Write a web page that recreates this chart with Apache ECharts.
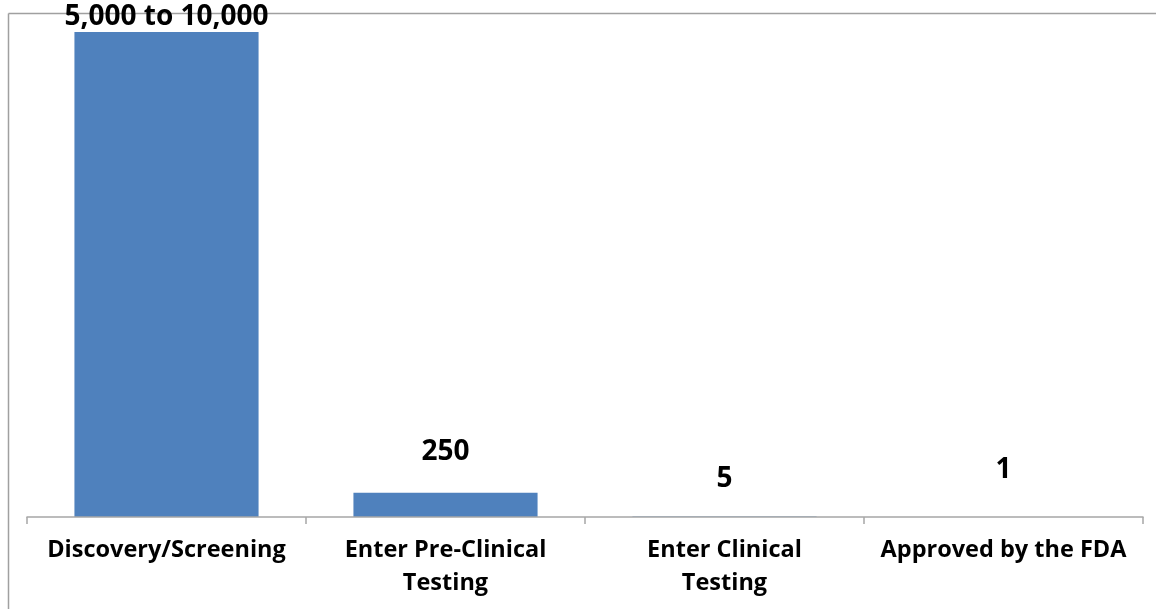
<!DOCTYPE html>
<html>
<head>
<meta charset="utf-8">
<script src="https://cdn.jsdelivr.net/npm/echarts@6/dist/echarts.min.js"></script>
<style>
html, body { margin: 0; padding: 0; background: #fff; }
#chart { width: 1156px; height: 609px; }
</style>
</head>
<body>
<div id="chart"></div>
<script>
// Data
var categories = ['Discovery/Screening', 'Enter Pre-Clinical\nTesting', 'Enter Clinical\nTesting', 'Approved by the FDA'];
var values = [5000, 250, 5, 1];
var valueLabels = ['5,000 to 10,000', '250', '5', '1'];

var labelDistance = [1, 27, 23, 33];
var FONT = 'Open Sans';

var chart = echarts.init(document.getElementById('chart'));
var option = {
  animation: false,
  backgroundColor: '#ffffff',
  grid: { left: 27, right: 13, top: 32, bottom: 92, containLabel: false },
  graphic: [
    { type: 'line', shape: { x1: 8.5, y1: 13.5, x2: 1160, y2: 13.5 }, style: { stroke: '#a0a0a0', lineWidth: 1.5 } },
    { type: 'line', shape: { x1: 8.5, y1: 13.5, x2: 8.5, y2: 620 }, style: { stroke: '#a0a0a0', lineWidth: 1.5 } }
  ],
  xAxis: {
    type: 'category',
    data: categories,
    boundaryGap: true,
    z: 3,
    axisLine: { show: true, lineStyle: { color: '#a6a6a6', width: 1.5 } },
    axisTick: { show: true, alignWithLabel: false, length: 7, lineStyle: { color: '#a6a6a6', width: 1.5 } },
    axisLabel: {
      interval: 0,
      margin: 17,
      color: '#000',
      fontFamily: FONT,
      fontWeight: 'bold',
      fontSize: 23.5,
      lineHeight: 33
    }
  },
  yAxis: {
    type: 'value',
    min: 0,
    max: 5000,
    show: false,
    splitLine: { show: false }
  },
  series: [{
    type: 'bar',
    barWidth: '66%',
    itemStyle: { color: '#4f81bd' },
    data: values.map(function (v, i) {
      return {
        value: v,
        label: {
          show: true,
          position: 'top',
          distance: labelDistance[i],
          formatter: valueLabels[i],
          color: '#000',
          fontFamily: FONT,
          fontWeight: 'bold',
          fontSize: 28
        }
      };
    })
  }]
};
chart.setOption(option);
</script>
</body>
</html>
